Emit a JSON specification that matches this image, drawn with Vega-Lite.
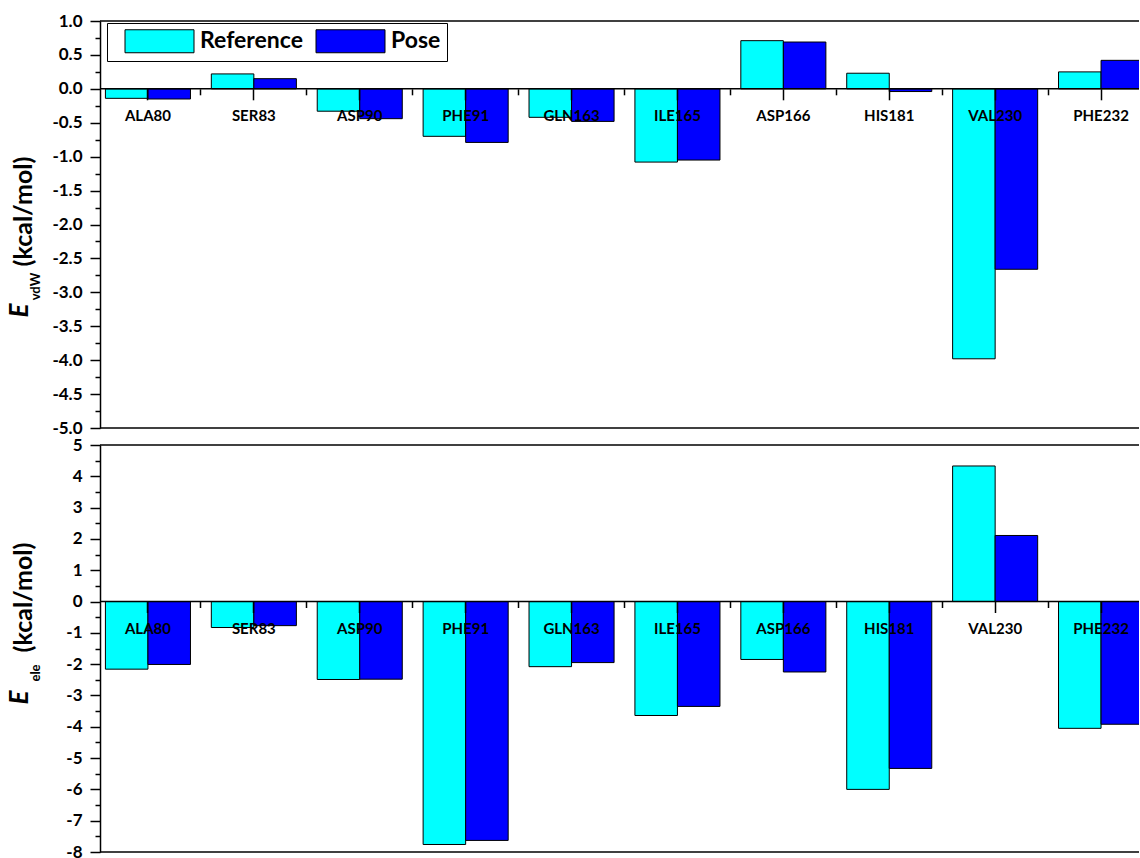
{
  "$schema": "https://vega.github.io/schema/vega-lite/v6.json",
  "background": "white",
  "padding": {"left": 6, "top": 12, "right": 0, "bottom": 0},
  "bounds": "flush",
  "spacing": 17,
  "config": {
    "view": {"stroke": null},
    "font": "Lato",
    "locale": {"number": {"decimal": ".", "thousands": ",", "grouping": [3], "currency": ["$", ""], "minus": "-"}},
    "axis": {
      "grid": false,
      "domainColor": "black",
      "tickColor": "black",
      "labelColor": "black",
      "titleColor": "black",
      "labelFont": "Lato",
      "titleFont": "Lato",
      "labelFontWeight": "bold",
      "titleFontWeight": "bold",
      "domainWidth": 1.5,
      "tickWidth": 1.5
    }
  },
  "data": {
    "values": [
      {"residue": "ALA80", "series": "Reference", "vdw": -0.14, "ele": -2.16},
      {"residue": "ALA80", "series": "Pose", "vdw": -0.15, "ele": -2.01},
      {"residue": "SER83", "series": "Reference", "vdw": 0.22, "ele": -0.83},
      {"residue": "SER83", "series": "Pose", "vdw": 0.15, "ele": -0.77},
      {"residue": "ASP90", "series": "Reference", "vdw": -0.33, "ele": -2.49},
      {"residue": "ASP90", "series": "Pose", "vdw": -0.44, "ele": -2.48},
      {"residue": "PHE91", "series": "Reference", "vdw": -0.70, "ele": -7.76},
      {"residue": "PHE91", "series": "Pose", "vdw": -0.79, "ele": -7.63},
      {"residue": "GLN163", "series": "Reference", "vdw": -0.42, "ele": -2.08},
      {"residue": "GLN163", "series": "Pose", "vdw": -0.48, "ele": -1.95},
      {"residue": "ILE165", "series": "Reference", "vdw": -1.08, "ele": -3.64},
      {"residue": "ILE165", "series": "Pose", "vdw": -1.05, "ele": -3.35},
      {"residue": "ASP166", "series": "Reference", "vdw": 0.71, "ele": -1.85},
      {"residue": "ASP166", "series": "Pose", "vdw": 0.69, "ele": -2.25},
      {"residue": "HIS181", "series": "Reference", "vdw": 0.23, "ele": -6.00},
      {"residue": "HIS181", "series": "Pose", "vdw": -0.04, "ele": -5.33},
      {"residue": "VAL230", "series": "Reference", "vdw": -3.98, "ele": 4.33},
      {"residue": "VAL230", "series": "Pose", "vdw": -2.66, "ele": 2.11},
      {"residue": "PHE232", "series": "Reference", "vdw": 0.25, "ele": -4.05},
      {"residue": "PHE232", "series": "Pose", "vdw": 0.42, "ele": -3.92}
    ]
  },
  "resolve": {"legend": {"color": "independent"}},
  "vconcat": [
    {
      "width": 1039,
      "height": 407,
      "resolve": {"axis": {"x": "independent", "y": "independent"}},
      "layer": [
        {
          "transform": [{"filter": "datum.series === 'Reference'"}],
          "mark": {"type": "bar", "clip": true, "stroke": "black", "strokeWidth": 1},
          "encoding": {
            "x": {
              "field": "residue", "type": "nominal",
              "scale": {"domain": ["ALA80", "SER83", "ASP90", "PHE91", "GLN163", "ILE165", "ASP166", "HIS181", "VAL230", "PHE232"], "range": [-5, 1054], "paddingInner": 0, "paddingOuter": 0},
              "axis": {"orient": "bottom", "offset": -339.2, "title": null, "bandPosition": 0.5, "domain": false, "tickSize": 11, "labelAngle": 0, "labelFontSize": 15, "labelPadding": 9, "zindex": 1}
            },
            "xOffset": {"field": "series", "scale": {"domain": ["Reference", "Pose"], "paddingInner": 0, "paddingOuter": 0.245}},
            "y": {
              "field": "vdw", "type": "quantitative",
              "scale": {"domain": [-5, 1], "nice": false, "zero": false},
              "axis": {"orient": "left", "values": [-5, -4.5, -4, -3.5, -3, -2.5, -2, -1.5, -1, -0.5, 0, 0.5, 1], "format": ".1f", "tickSize": 10, "labelFontSize": 17, "labelPadding": 8, "title": "(kcal/mol)", "titleX": -69, "titleY": 190, "titleAngle": -90, "titleAlign": "center", "titleBaseline": "alphabetic", "titleFontSize": 25, "zindex": 1}
            },
            "color": {
              "field": "series", "type": "nominal",
              "scale": {"domain": ["Reference", "Pose"], "range": ["#00FFFF", "#0000FF"]},
              "legend": {"orient": "none", "legendX": 7, "legendY": 2, "direction": "horizontal", "title": null, "symbolType": "M0,-1H6V1H0Z", "symbolSize": 529, "symbolStrokeColor": "black", "symbolStrokeWidth": 1, "symbolOpacity": 1, "labelFont": "Lato", "labelFontSize": 23, "labelFontWeight": "bold", "labelColor": "black", "labelOffset": 63, "labelExpr": "datum.label == 'Pose' ? 'Pose    ' : datum.label", "columnPadding": -9, "padding": 6, "strokeColor": "black", "fillColor": "white", "cornerRadius": 0}
            }
          }
        },
        {
          "transform": [{"filter": "datum.series === 'Pose'"}],
          "mark": {"type": "bar", "clip": true, "stroke": "black", "strokeWidth": 1},
          "encoding": {
            "x": {
              "field": "residue", "type": "nominal",
              "axis": {"orient": "bottom", "offset": -339.2, "title": null, "values": ["SER83", "ASP90", "PHE91", "GLN163", "ILE165", "ASP166", "HIS181", "VAL230", "PHE232"], "bandPosition": 0, "domain": false, "labels": false, "tickSize": 6, "zindex": 1}
            },
            "xOffset": {"field": "series"},
            "y": {
              "field": "vdw", "type": "quantitative",
              "axis": {"orient": "left", "values": [-4.75, -4.25, -3.75, -3.25, -2.75, -2.25, -1.75, -1.25, -0.75, -0.25, 0.25, 0.75], "labels": false, "domain": false, "tickSize": 5, "title": "E", "titleX": -72.5, "titleY": 289, "titleAngle": -90, "titleAlign": "center", "titleBaseline": "alphabetic", "titleFontSize": 26, "titleFontStyle": "italic", "zindex": 1}
            },
            "color": {"field": "series", "type": "nominal"}
          }
        },
        {
          "data": {"values": [{}]},
          "mark": {"type": "rule", "color": "black", "strokeWidth": 1.5},
          "encoding": {"y": {"datum": 0, "type": "quantitative", "axis": null}}
        },
        {
          "data": {"values": [{}]},
          "mark": {"type": "rule", "color": "black", "strokeWidth": 1.5},
          "encoding": {
            "y": {"datum": 1, "type": "quantitative",
              "axis": {"orient": "left", "labels": false, "ticks": false, "domain": false, "title": "vdW", "titleX": -60.5, "titleY": 265, "titleAngle": -90, "titleAlign": "center", "titleBaseline": "alphabetic", "titleFontSize": 13, "zindex": 1}}
          }
        },
        {
          "data": {"values": [{}]},
          "mark": {"type": "rule", "color": "black", "strokeWidth": 1.5},
          "encoding": {"y": {"datum": -5, "type": "quantitative", "axis": null}}
        }
      ]
    },
    {
      "width": 1039,
      "height": 407,
      "resolve": {"axis": {"x": "independent", "y": "independent"}},
      "layer": [
        {
          "transform": [{"filter": "datum.series === 'Reference'"}],
          "mark": {"type": "bar", "clip": true, "stroke": "black", "strokeWidth": 1},
          "encoding": {
            "x": {
              "field": "residue", "type": "nominal",
              "scale": {"domain": ["ALA80", "SER83", "ASP90", "PHE91", "GLN163", "ILE165", "ASP166", "HIS181", "VAL230", "PHE232"], "range": [-5, 1054], "paddingInner": 0, "paddingOuter": 0},
              "axis": {"orient": "bottom", "offset": -250.5, "title": null, "bandPosition": 0.5, "domain": false, "tickSize": 11, "labelAngle": 0, "labelFontSize": 15, "labelPadding": 9, "zindex": 1}
            },
            "xOffset": {"field": "series", "scale": {"domain": ["Reference", "Pose"], "paddingInner": 0, "paddingOuter": 0.245}},
            "y": {
              "field": "ele", "type": "quantitative",
              "scale": {"domain": [-8, 5], "nice": false, "zero": false},
              "axis": {"orient": "left", "values": [-8, -7, -6, -5, -4, -3, -2, -1, 0, 1, 2, 3, 4, 5], "format": "d", "tickSize": 10, "labelFontSize": 17, "labelPadding": 8, "title": "(kcal/mol)", "titleX": -69, "titleY": 152, "titleAngle": -90, "titleAlign": "center", "titleBaseline": "alphabetic", "titleFontSize": 25, "zindex": 1}
            },
            "color": {
              "field": "series", "type": "nominal",
              "scale": {"domain": ["Reference", "Pose"], "range": ["#00FFFF", "#0000FF"]},
              "legend": null
            }
          }
        },
        {
          "transform": [{"filter": "datum.series === 'Pose'"}],
          "mark": {"type": "bar", "clip": true, "stroke": "black", "strokeWidth": 1},
          "encoding": {
            "x": {
              "field": "residue", "type": "nominal",
              "axis": {"orient": "bottom", "offset": -250.5, "title": null, "values": ["SER83", "ASP90", "PHE91", "GLN163", "ILE165", "ASP166", "HIS181", "VAL230", "PHE232"], "bandPosition": 0, "domain": false, "labels": false, "tickSize": 6, "zindex": 1}
            },
            "xOffset": {"field": "series"},
            "y": {
              "field": "ele", "type": "quantitative",
              "axis": {"orient": "left", "values": [-7.5, -6.5, -5.5, -4.5, -3.5, -2.5, -1.5, -0.5, 0.5, 1.5, 2.5, 3.5, 4.5], "labels": false, "domain": false, "tickSize": 5, "title": "E", "titleX": -72.5, "titleY": 252, "titleAngle": -90, "titleAlign": "center", "titleBaseline": "alphabetic", "titleFontSize": 26, "titleFontStyle": "italic", "zindex": 1}
            },
            "color": {"field": "series", "type": "nominal", "legend": null}
          }
        },
        {
          "data": {"values": [{}]},
          "mark": {"type": "rule", "color": "black", "strokeWidth": 1.5},
          "encoding": {"y": {"datum": 0, "type": "quantitative", "axis": null}}
        },
        {
          "data": {"values": [{}]},
          "mark": {"type": "rule", "color": "black", "strokeWidth": 1.5},
          "encoding": {
            "y": {"datum": 5, "type": "quantitative",
              "axis": {"orient": "left", "labels": false, "ticks": false, "domain": false, "title": "ele", "titleX": -60.5, "titleY": 227.5, "titleAngle": -90, "titleAlign": "center", "titleBaseline": "alphabetic", "titleFontSize": 13, "zindex": 1}}
          }
        },
        {
          "data": {"values": [{}]},
          "mark": {"type": "rule", "color": "black", "strokeWidth": 1.5},
          "encoding": {"y": {"datum": -8, "type": "quantitative", "axis": null}}
        }
      ]
    }
  ]
}
